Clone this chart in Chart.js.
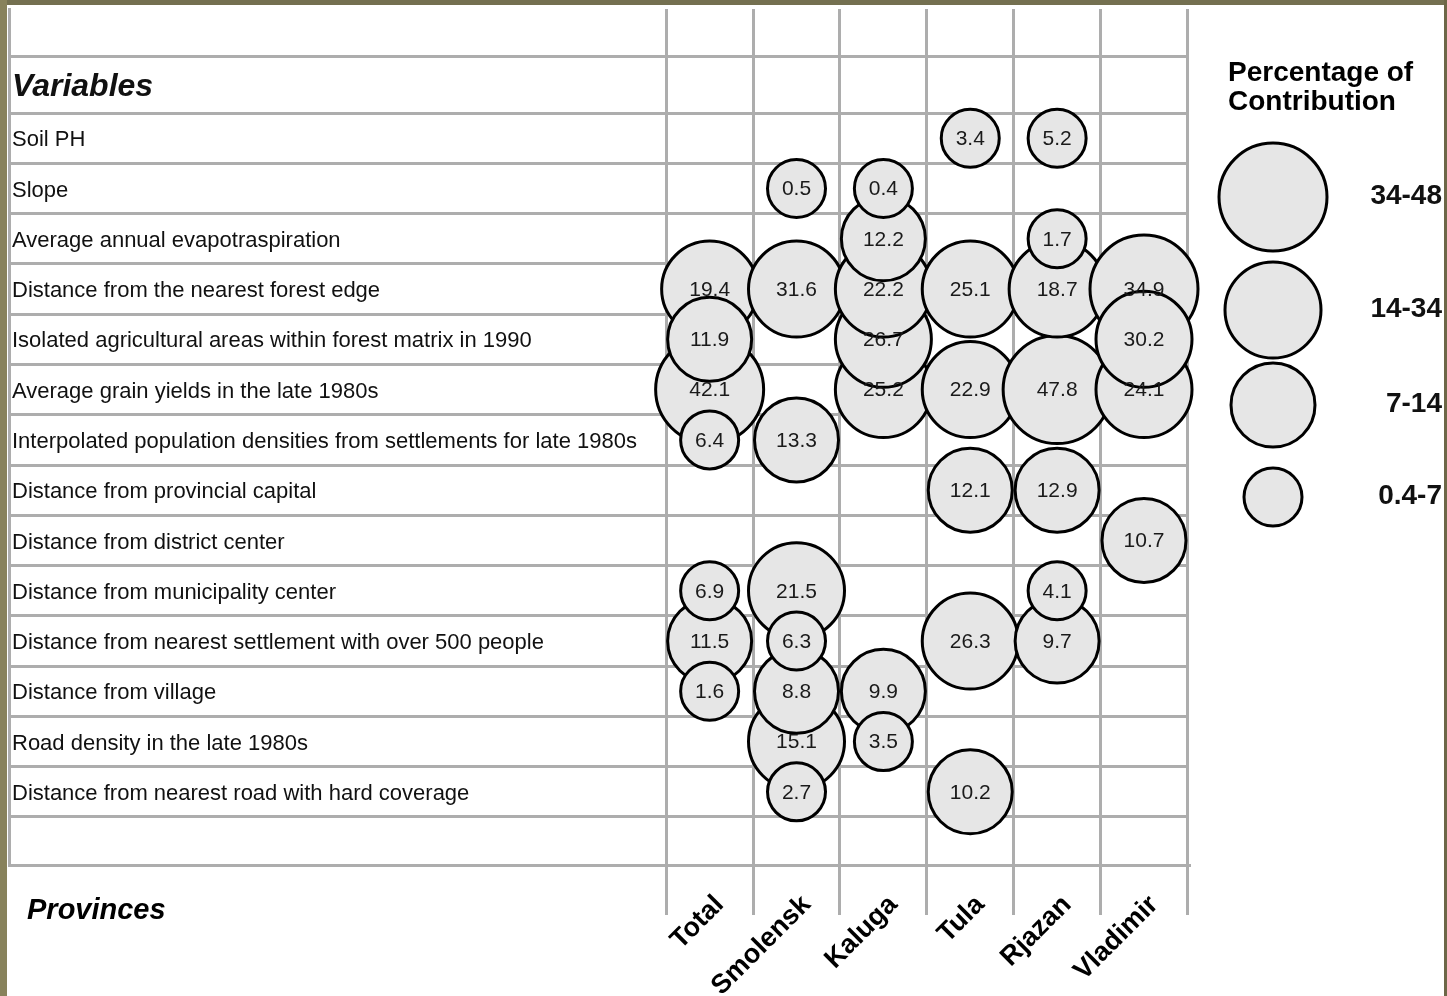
<!DOCTYPE html>
<html>
<head>
<meta charset="utf-8">
<title>Percentage of contribution by variable and province</title>
<script src="https://cdn.jsdelivr.net/npm/chart.js@4.4.1/dist/chart.umd.min.js"></script>
<style>
  html, body { margin: 0; padding: 0; background: #ffffff; }
  #wrap { position: relative; width: 1447px; height: 996px; overflow: hidden; background: #ffffff; }
  #chart { position: absolute; left: 0; top: 0; }
  .frame { position: absolute; }
  #frameTop { left: 0; top: 0; width: 1447px; height: 5px; background: #747050; }
  #frameLeft { left: 0; top: 0; width: 7px; height: 996px; background: #88825c; }
  #frameRight { right: 0; top: 0; width: 3px; height: 996px; background: #6d6747; }
</style>
</head>
<body>
<div id="wrap">
  <canvas id="chart" width="1447" height="996"></canvas>
  <div class="frame" id="frameTop"></div>
  <div class="frame" id="frameLeft"></div>
  <div class="frame" id="frameRight"></div>
</div>
<script>
// ---- data ----
const variables = [
  'Soil PH',
  'Slope',
  'Average annual evapotraspiration',
  'Distance from the nearest forest edge',
  'Isolated agricultural areas within forest matrix in 1990',
  'Average grain yields in the late 1980s',
  'Interpolated population densities from settlements for late 1980s',
  'Distance from provincial capital',
  'Distance from district center',
  'Distance from municipality center',
  'Distance from nearest settlement with over 500 people',
  'Distance from village',
  'Road density in the late 1980s',
  'Distance from nearest road with hard coverage'
];

const provinces = ['Total', 'Smolensk', 'Kaluga', 'Tula', 'Rjazan', 'Vladimir'];

// contribution (%) of each variable, in the order of `variables`; null = not retained
const totalValues    = [null, null, null, 19.4, 11.9, 42.1, 6.4, null, null, 6.9, 11.5, 1.6, null, null];
const smolenskValues = [null, 0.5, null, 31.6, null, null, 13.3, null, null, 21.5, 6.3, 8.8, 15.1, 2.7];
const kalugaValues   = [null, 0.4, 12.2, 22.2, 26.7, 25.2, null, null, null, null, null, 9.9, 3.5, null];
const tulaValues     = [3.4, null, null, 25.1, null, 22.9, null, 12.1, null, null, 26.3, null, null, 10.2];
const rjazanValues   = [5.2, null, 1.7, 18.7, null, 47.8, null, 12.9, null, 4.1, 9.7, null, null, null];
const vladimirValues = [null, null, null, 34.9, 30.2, 24.1, null, null, 10.7, null, null, null, null, null];

const seriesValues = [totalValues, smolenskValues, kalugaValues, tulaValues, rjazanValues, vladimirValues];

// size classes of the key (lower bound of each class)
const classLabels = ['34-48', '14-34', '7-14', '0.4-7'];
const classLower  = [34, 14, 7, 0.4];

const headerLabel = 'Variables';
const axisLabel = 'Provinces';
const keyTitle = ['Percentage of', 'Contribution'];

// ---- layout / style ----
const FONT = '"Liberation Sans", Arial, Helvetica, sans-serif';
const GRID = '#adadad';
const CLASS_RADIUS = [54, 48, 42, 29];
const X_MIN = -7.065, X_MAX = 6.518;
const Y_MIN = -2.57, Y_MAX = 14.455;
const HEADER_TOP = -1.633, HEADER_MID = -1.05;

function radiusFor(v) {
  for (let k = 0; k < classLower.length; k++) {
    if (v >= classLower[k]) return CLASS_RADIUS[k];
  }
  return CLASS_RADIUS[CLASS_RADIUS.length - 1];
}

// scales keep their own size and ask for no extra room around the plot
function noPadding(s) {
  s.paddingLeft = 0; s.paddingRight = 0; s.paddingTop = 0; s.paddingBottom = 0;
}

Chart.defaults.font.family = FONT;
Chart.defaults.color = '#111111';

// one dataset per province; bigger bubbles first, and earlier rows drawn over later ones
const datasets = seriesValues.map((vals, pi) => {
  const pts = [];
  vals.forEach((v, row) => {
    if (v !== null) pts.push({ x: pi + 1, y: row, r: radiusFor(v), v: v });
  });
  pts.sort((a, b) => (b.r - a.r) || (b.y - a.y));
  return {
    label: provinces[pi],
    data: pts,
    order: provinces.length - pi,
    backgroundColor: '#e6e6e6',
    borderColor: '#000000',
    borderWidth: 3,
    hoverRadius: 0,
    hoverBorderWidth: 3,
    clip: false
  };
});

const annotate = {
  id: 'annotate',
  afterDatasetsDraw(chart) {
    const ctx = chart.ctx;
    ctx.save();
    ctx.font = '21px ' + FONT;
    ctx.fillStyle = '#1a1a1a';
    ctx.textAlign = 'center';
    ctx.textBaseline = 'middle';
    chart.data.datasets.forEach((ds, di) => {
      const meta = chart.getDatasetMeta(di);
      meta.data.forEach((el, j) => {
        ctx.fillText(ds.data[j].v.toFixed(1), el.x, el.y + 1);
      });
    });
    ctx.restore();
  },
  afterDraw(chart) {
    const ctx = chart.ctx;
    const area = chart.chartArea;
    ctx.save();
    // axis caption under the variable names
    ctx.font = 'italic bold 29px ' + FONT;
    ctx.fillStyle = '#000000';
    ctx.textAlign = 'left';
    ctx.textBaseline = 'middle';
    ctx.fillText(axisLabel, 27, 911);

    // size key
    const keyLeft = area.right + 39;
    ctx.font = 'bold 28px ' + FONT;
    ctx.fillText(keyTitle[0], keyLeft, 73);
    ctx.fillText(keyTitle[1], keyLeft, 102);
    const keyX = area.right + 84;
    const keyY = [197, 310, 405, 497];
    classLabels.forEach((lab, k) => {
      ctx.fillStyle = '#e6e6e6';
      ctx.strokeStyle = '#000000';
      ctx.lineWidth = 3;
      Chart.helpers.drawPoint(ctx, { pointStyle: 'circle', radius: CLASS_RADIUS[k], borderWidth: 3, rotation: 0 }, keyX, keyY[k]);
      ctx.fillStyle = '#111111';
      ctx.textAlign = 'right';
      ctx.font = 'bold 28px ' + FONT;
      ctx.fillText(lab, chart.width - 5, keyY[k] - 1);
    });
    ctx.restore();
  }
};

new Chart(document.getElementById('chart'), {
  type: 'bubble',
  data: { datasets },
  plugins: [annotate],
  options: {
    responsive: false,
    animation: false,
    events: [],
    layout: { autoPadding: false, padding: { left: 9, top: 9, right: 258, bottom: 0 } },
    plugins: { legend: { display: false }, tooltip: { enabled: false } },
    scales: {
      x: {
        type: 'linear',
        position: 'bottom',
        min: X_MIN,
        max: X_MAX,
        bounds: 'data',
        afterBuildTicks: (s) => { s.ticks = provinces.map((p, i) => ({ value: i + 1 })); },
        afterFit: (s) => { s.height = 131; noPadding(s); },
        grid: { offset: true, color: GRID, lineWidth: 3, drawTicks: true, tickLength: 50, tickColor: GRID, tickWidth: 3 },
        border: { display: true, color: GRID, width: 3 },
        ticks: {
          autoSkip: false,
          minRotation: 45,
          maxRotation: 45,
          labelOffset: 10,
          padding: -26,
          color: '#000000',
          font: { size: 27, weight: 'bold' },
          callback: (v, i) => provinces[i]
        }
      },
      y: {
        type: 'linear',
        position: 'left',
        reverse: true,
        min: Y_MIN,
        max: Y_MAX,
        bounds: 'data',
        afterBuildTicks: (s) => {
          s.ticks = [{ value: HEADER_TOP }].concat(
            Array.from({ length: variables.length + 1 }, (_, i) => ({ value: i - 0.5 })));
        },
        afterFit: (s) => { s.width = 0; noPadding(s); },
        grid: { color: GRID, lineWidth: 3, drawTicks: false },
        border: { display: true, color: GRID, width: 3 },
        ticks: { display: false }
      },
      yl: {
        type: 'linear',
        position: 'left',
        reverse: true,
        min: Y_MIN,
        max: Y_MAX,
        bounds: 'data',
        afterBuildTicks: (s) => {
          s.ticks = [{ value: HEADER_MID }].concat(variables.map((_, i) => ({ value: i })));
        },
        afterFit: (s) => { s.width = 0; noPadding(s); },
        grid: { display: false, drawTicks: false },
        border: { display: false },
        ticks: {
          mirror: true,
          padding: 3,
          labelOffset: 2,
          autoSkip: false,
          color: '#111111',
          font: (c) => c.index === 0
            ? { size: 32, weight: 'bold', style: 'italic' }
            : { size: 22 },
          callback: (v, i) => i === 0 ? headerLabel : variables[i - 1]
        }
      }
    }
  }
});
</script>
</body>
</html>
